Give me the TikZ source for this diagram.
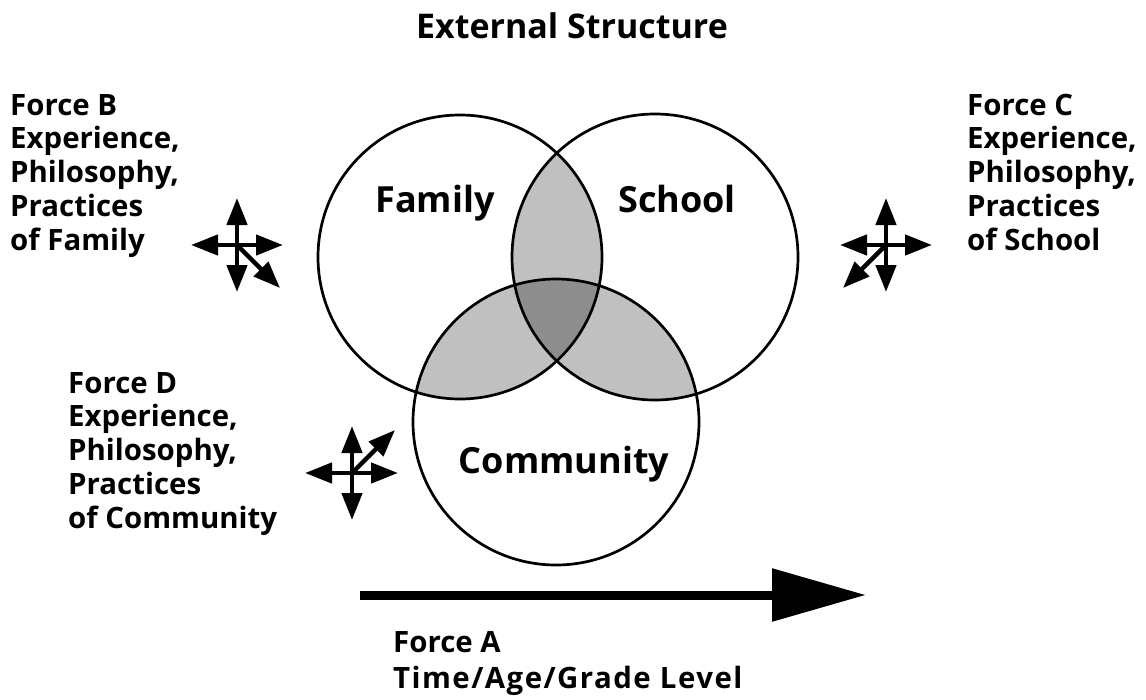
\documentclass[tikz,border=0pt]{standalone}
\usepackage{fontspec}
\setmainfont{Open Sans}
\usepackage{xcolor}
\usetikzlibrary{arrows.meta}

\definecolor{pairgray}{RGB}{192,192,192}
\definecolor{triplegray}{RGB}{141,141,141}

\begin{document}
\begin{tikzpicture}[x=1pt, y=-1pt,
	every node/.style={inner sep=0pt, font=\bfseries},
	forcetext/.style={align=left, anchor=base west, font=\fontsize{29.4}{33.7}\selectfont\bfseries},
	setlabel/.style={anchor=base, font=\fontsize{36}{40}\selectfont\bfseries},
	twoway/.style={line width=4.5pt, {Triangle[length=27pt,width=20pt]}-{Triangle[length=27pt,width=20pt]}},
	oneway/.style={line width=4.5pt, -{Triangle[length=27pt,width=20pt]}},
	bigarrow/.style={line width=9pt, -{Triangle[length=94pt,width=51pt]}}]
	\useasboundingbox (0,0) rectangle (1146,699);

	% the three sets
	\coordinate (fam) at (460,257);
	\coordinate (sch) at (655,257);
	\coordinate (com) at (556,422);

	% overlaps
	\begin{scope}
		\clip (fam) circle (142);
		\fill[pairgray] (sch) circle (143);
		\fill[pairgray] (com) circle (143);
	\end{scope}
	\begin{scope}
		\clip (sch) circle (143);
		\fill[pairgray] (com) circle (143);
	\end{scope}
	\begin{scope}
		\clip (fam) circle (142);
		\clip (sch) circle (143);
		\fill[triplegray] (com) circle (143);
	\end{scope}

	\draw[line width=2.7pt] (fam) circle (142);
	\draw[line width=2.7pt] (sch) circle (143);
	\draw[line width=2.7pt] (com) circle (143);

	\node[setlabel] (family) at (435,212) {Family};
	\node[setlabel] (school) at (677,212) {School};
	\node[setlabel] (community) at (564,473) {Community};

	\node[anchor=base, font=\fontsize{34}{40}\selectfont\bfseries] (title) at (572,38) {External Structure};

	% forces
	\node[forcetext] (forceb) at (10,250) {Force B\\Experience,\\Philosophy,\\Practices\\of Family};
	\node[forcetext] (forcec) at (967,250) {Force C\\Experience,\\Philosophy,\\Practices\\of School};
	\node[forcetext] (forced) at (68,528) {Force D\\Experience,\\Philosophy,\\Practices\\of Community};
	\node[forcetext, font=\fontsize{29.4}{36}\selectfont\bfseries] (forcea) at (393,688) {Force A\\{\addfontfeature{LetterSpace=5}Time/Age/Grade Level}};

	% crosses
	\coordinate (xb) at (237,245);
	\coordinate (xc) at (886,245);
	\coordinate (xd) at (352,473);
	\draw[twoway] (xb) ++(0,-47) -- ++(0,94);
	\draw[twoway] (xb) ++(-46,0) -- ++(92,0);
	\draw[oneway] (xb) -- ++(43,43);
	\draw[twoway] (xc) ++(0,-47) -- ++(0,94);
	\draw[twoway] (xc) ++(-46,0) -- ++(92,0);
	\draw[oneway] (xc) -- ++(-43,43);
	\draw[twoway] (xd) ++(0,-47) -- ++(0,94);
	\draw[twoway] (xd) ++(-47,0) -- ++(93,0);
	\draw[oneway] (xd) -- ++(43,-43);

	\coordinate (timestart) at (360,595);
	\coordinate (timeend) at (866,595);
	\draw[bigarrow] (timestart) -- (timeend);
\end{tikzpicture}
\end{document}
